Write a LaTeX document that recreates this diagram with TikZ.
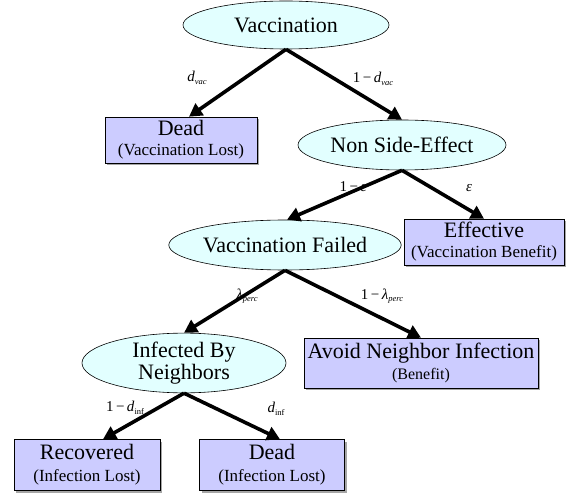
\documentclass[tikz,border=0pt]{standalone}
\usepackage{fontspec}
\setmainfont{Liberation Serif}
\usetikzlibrary{arrows.meta,shapes.geometric,shadows}
\definecolor{ellfill}{RGB}{226,255,255}
\definecolor{boxfill}{RGB}{204,204,255}
\tikzset{
  ell/.style={ellipse, draw=black, line width=0.6pt, fill=ellfill, inner sep=0pt, font=\fontsize{22}{23}\selectfont, align=center},
  boxn/.style={rectangle, draw=black, line width=0.6pt, fill=boxfill, inner sep=0pt, align=center, font=\fontsize{22}{23}\selectfont,
    drop shadow={shadow xshift=2pt, shadow yshift=-2pt, fill=gray!70, opacity=1}},
  lbl/.style={inner sep=0pt, font=\fontsize{15}{15}\selectfont},
  edge/.style={line width=3.6pt, -{Triangle[length=13pt,width=14pt]}},
}
\newcommand{\subtxt}[1]{{\fontsize{17}{19}\selectfont #1}}
\newcommand{\sbs}[1]{\raisebox{-2.5pt}{\fontsize{8.5}{9}\selectfont #1}}
\begin{document}
\begin{tikzpicture}[x=1pt,y=-1pt]
\useasboundingbox (0,0) rectangle (578,494);
% nodes
\node[ell, minimum width=206pt, minimum height=48pt] (vac) at (286,25) {Vaccination};
\node[boxn, minimum width=152pt, minimum height=46pt] (dead1) at (181,140) {Dead\\[-3pt]\subtxt{(Vaccination Lost)}};
\node[ell, minimum width=208pt, minimum height=50pt] (nse) at (402,145) {Non Side-Effect};
\node[ell, minimum width=204pt, minimum height=50pt] (vf) at (285,245) {Vaccination Failed};
\node[boxn, minimum width=160pt, minimum height=46pt] (eff) at (484,242) {Effective\\[-3pt]\subtxt{(Vaccination Benefit)}};
\node[ell, minimum width=204pt, minimum height=50pt, font=\fontsize{22}{22}\selectfont] (inf) at (184,363) {Infected By\\Neighbors};
\node[boxn, minimum width=234pt, minimum height=50pt] (avoid) at (421,363) {Avoid Neighbor Infection\\[-2pt]{\fontsize{16}{18}\selectfont (Benefit)}};
\node[boxn, minimum width=146pt, minimum height=51pt] (rec) at (87,465) {Recovered\\[-1pt]\subtxt{(Infection Lost)}};
\node[boxn, minimum width=145pt, minimum height=51pt] (dead2) at (272,465) {Dead\\[-1pt]\subtxt{(Infection Lost)}};
% labels
\node[lbl] (l1) at (197,78) {\textit{d}\sbs{\textit{vac}}};
\node[lbl] (l2) at (373,79) {1\,−\,\textit{d}\sbs{\textit{vac}}};
\node[lbl] (l3) at (353,187) {1\,−\,\textit{ε}};
\node[lbl] (l4) at (469,188) {\textit{ε}};
\node[lbl] (l5) at (247,296) {\textit{λ}\sbs{\textit{perc}}};
\node[lbl] (l6) at (382,296) {1\,−\,\textit{λ}\sbs{\textit{perc}}};
\node[lbl] (l7) at (125,408) {1\,−\,\textit{d}\sbs{inf}};
\node[lbl] (l8) at (276,409) {\textit{d}\sbs{inf}};
% edges
\draw[edge] (vac.south) -- ([xshift=8pt]dead1.north);
\draw[edge] (vac.south) -- (nse.north);
\draw[edge] (nse.south) -- ([xshift=2pt]vf.north);
\draw[edge] (nse.south) -- (eff.north);
\draw[edge] (vf.south) -- (inf.north);
\draw[edge] (vf.south) -- (avoid.north);
\draw[edge] (inf.south) -- ([xshift=16pt]rec.north);
\draw[edge] (inf.south) -- ([xshift=8pt]dead2.north);
\end{tikzpicture}
\end{document}
